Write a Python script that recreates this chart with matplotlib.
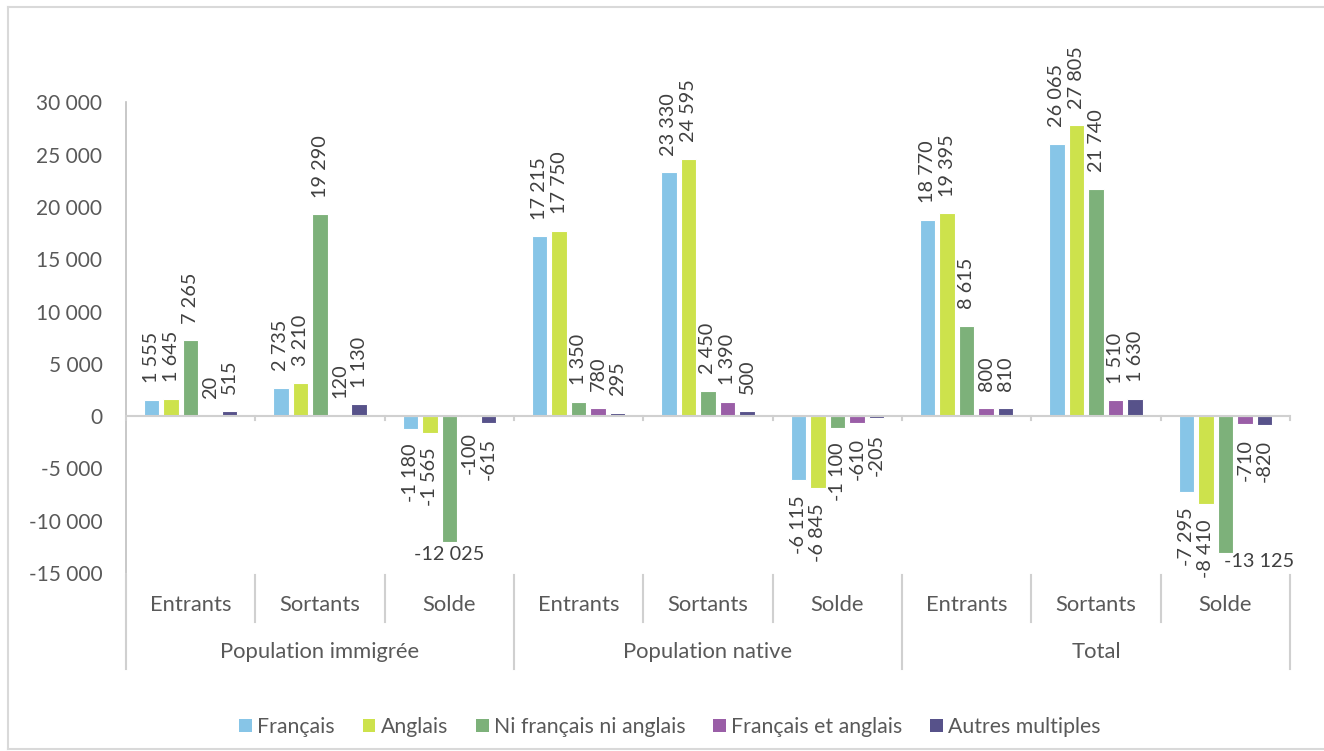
import numpy as np
import matplotlib.pyplot as plt
from matplotlib.patches import Patch
from matplotlib.lines import Line2D
from matplotlib.ticker import FuncFormatter

plt.rcParams['font.family'] = ['Lato', 'DejaVu Sans']

categories = ['Entrants', 'Sortants', 'Solde'] * 3
groups = ['Population immigrée', 'Population native', 'Total']
series = ['Français', 'Anglais', 'Ni français ni anglais', 'Français et anglais', 'Autres multiples']

francais = [1555, 2735, -1180, 17215, 23330, -6115, 18770, 26065, -7295]
anglais = [1645, 3210, -1565, 17750, 24595, -6845, 19395, 27805, -8410]
ni_fr_ni_en = [7265, 19290, -12025, 1350, 2450, -1100, 8615, 21740, -13125]
fr_et_en = [20, 120, -100, 780, 1390, -610, 800, 1510, -710]
autres = [515, 1130, -615, 295, 500, -205, 810, 1630, -820]

values = [francais, anglais, ni_fr_ni_en, fr_et_en, autres]
colors = ['#87C5E7', '#CDE24C', '#7DB17A', '#9A5EA7', '#57528A']

txt = '#595959'
lab = '#404040'
grey = '#D0D0D0'

def fmt(v):
    return f"{int(v):,}".replace(',', ' ')

fig = plt.figure(figsize=(13.24, 7.51), dpi=100)
ax = fig.add_axes([126/1324, 1-573/751, (1290-126)/1324, (573-102.5)/751])

x = np.arange(len(categories))
w = 0.12
pitch = 0.151
ymin, ymax = -15000, 30000
px_per_unit = 470.5 / (ymax - ymin)
lfs = 14.3

for i, (vals, c) in enumerate(zip(values, colors)):
    xs = x + (i - 2) * pitch
    ax.bar(xs, vals, width=w, color=c, edgecolor='white', linewidth=0.8, zorder=3)
    for xi, v in zip(xs, vals):
        s = fmt(v)
        if v >= 0:
            ax.annotate(s, (xi, v), xytext=(0, 12), textcoords='offset points',
                        rotation=90, ha='center', va='bottom', fontsize=lfs, color=lab)
        elif v < -11000:
            bottom_px = (v - ymin) * px_per_unit
            if bottom_px < 25:
                ax.annotate(s, (xi, v), xytext=(24, -6), textcoords='offset points',
                            ha='center', va='center', fontsize=lfs, color=lab)
            else:
                ax.annotate(s, (xi, v), xytext=(0, -3), textcoords='offset points',
                            ha='center', va='top', fontsize=lfs, color=lab)
        else:
            ax.annotate(s, (xi, v), xytext=(0, -11), textcoords='offset points',
                        rotation=90, ha='center', va='top', fontsize=lfs, color=lab)

ax.set_xlim(-0.5, len(categories) - 0.5)
ax.set_ylim(ymin, ymax)
ax.set_yticks(np.arange(ymin, ymax + 1, 5000))
ax.yaxis.set_major_formatter(FuncFormatter(lambda v, p: fmt(v)))
ax.tick_params(axis='y', length=0, labelsize=15, labelcolor=txt, pad=17)
ax.set_xticks([])

for sp in ['top', 'right', 'bottom']:
    ax.spines[sp].set_visible(False)
ax.spines['left'].set_color('#BFBFBF')
ax.spines['left'].set_linewidth(1.2)

# zero axis with small ticks at category boundaries
ax.axhline(0, color=grey, lw=1.5, zorder=4)
bounds = np.arange(-0.5, len(categories), 1.0)
for b in bounds:
    ax.plot([b, b], [0, -400], color=grey, lw=1.5, zorder=4, clip_on=False)

# multi-level category axis below the plot
tr = ax.get_xaxis_transform()
for k, b in enumerate(bounds):
    y0 = -0.1045 if k % 3 else -0.203
    ax.add_line(Line2D([b, b], [-0.004, y0], transform=tr, color=grey, lw=1.5, clip_on=False))
for xi, c in zip(x, categories):
    ax.text(xi, -0.068, c, transform=tr, ha='center', va='center', fontsize=15.8, color=txt)
for g, name in enumerate(groups):
    ax.text(3 * g + 1, -0.168, name, transform=tr, ha='center', va='center', fontsize=15.8, color=txt)

handles = [Patch(facecolor=c, edgecolor='none') for c in colors]
fig.legend(handles, series, loc='center', bbox_to_anchor=(670/1324, 1-727/751), ncol=5,
           frameon=False, fontsize=15.3, handlelength=0.6, handleheight=0.6,
           handletextpad=0.25, columnspacing=1.3, labelcolor=txt)

# chart border
for xs_, ys_ in [([8, 8], [7, 749]), ([8, 1324], [7, 7]), ([8, 1324], [749, 749])]:
    fig.add_artist(Line2D([v/1324 for v in xs_], [1 - v/751 for v in ys_], color='#D9D9D9', lw=1.5))

fig.savefig('out.png', dpi=100)
